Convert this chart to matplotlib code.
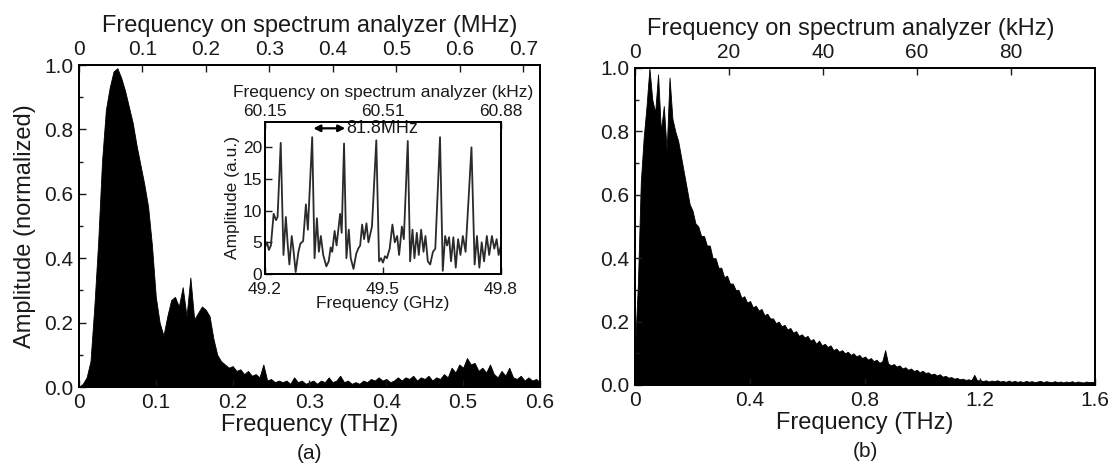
import numpy as np
import matplotlib.pyplot as plt
from matplotlib.ticker import MultipleLocator

plt.rcParams['font.family'] = ['Liberation Sans', 'DejaVu Sans']
plt.rcParams['text.color'] = '#1a1a1a'
plt.rcParams['axes.labelcolor'] = '#1a1a1a'

# ---- panel (a): spectrum 0 - 0.6 THz, read every 0.005 THz ----
freq_a = np.linspace(0.0, 0.6, 121)
amp_a = [0.00, 0.01, 0.03, 0.08, 0.25, 0.45, 0.70, 0.86, 0.93, 0.98,
         0.99, 0.96, 0.92, 0.87, 0.82, 0.75, 0.69, 0.63, 0.56, 0.44,
         0.28, 0.20, 0.16, 0.22, 0.27, 0.28, 0.25, 0.31, 0.22, 0.34,
         0.21, 0.23, 0.25, 0.24, 0.22, 0.15, 0.10, 0.08, 0.07, 0.06,
         0.065, 0.05, 0.055, 0.04, 0.05, 0.035, 0.04, 0.03, 0.07, 0.02,
         0.025, 0.015, 0.02, 0.015, 0.02, 0.01, 0.03, 0.015, 0.02, 0.01,
         0.015, 0.02, 0.01, 0.02, 0.015, 0.03, 0.015, 0.02, 0.035, 0.015,
         0.02, 0.01, 0.015, 0.01, 0.02, 0.015, 0.025, 0.02, 0.03, 0.02,
         0.025, 0.015, 0.02, 0.03, 0.02, 0.03, 0.025, 0.035, 0.02, 0.03,
         0.025, 0.035, 0.02, 0.03, 0.025, 0.04, 0.03, 0.06, 0.045, 0.07,
         0.06, 0.09, 0.07, 0.075, 0.05, 0.06, 0.045, 0.07, 0.04, 0.03,
         0.05, 0.035, 0.06, 0.03, 0.025, 0.035, 0.02, 0.03, 0.02, 0.025,
         0.015]
mhz_ticks = [0, 0.1, 0.2, 0.3, 0.4, 0.5, 0.6, 0.7]
mhz_max = 0.726

# ---- inset: comb of modes, 49.2 - 49.8 GHz ----
inset_freq = [49.200, 49.205, 49.210, 49.215, 49.222, 49.228, 49.232, 49.240,
              49.247, 49.253, 49.258, 49.262, 49.268, 49.272, 49.278, 49.285,
              49.290, 49.297, 49.304, 49.309, 49.320, 49.326, 49.332, 49.337,
              49.342, 49.348, 49.356, 49.362, 49.367, 49.371, 49.377, 49.382,
              49.391, 49.395, 49.401, 49.407, 49.413, 49.418, 49.425, 49.432,
              49.437, 49.442, 49.447, 49.452, 49.458, 49.463, 49.472, 49.483,
              49.490, 49.495, 49.500, 49.505, 49.510, 49.517, 49.524, 49.530,
              49.536, 49.541, 49.548, 49.553, 49.563, 49.569, 49.575, 49.580,
              49.586, 49.591, 49.597, 49.603, 49.608, 49.614, 49.620, 49.627,
              49.633, 49.645, 49.652, 49.658, 49.663, 49.668, 49.673, 49.679,
              49.685, 49.691, 49.697, 49.703, 49.710, 49.725, 49.733, 49.739,
              49.745, 49.751, 49.757, 49.764, 49.770, 49.777, 49.783, 49.789,
              49.794, 49.800]
inset_amp = [4.2, 5.0, 3.8, 4.5, 9.5, 8.5, 9.0, 20.7,
             3.0, 9.0, 4.5, 1.5, 6.0, 4.0, 0.3, 3.5,
             4.8, 5.2, 11.0, 7.0, 21.6, 2.5, 8.8, 3.5,
             6.0, 3.0, 1.2, 2.0, 4.2, 3.5, 6.8, 4.5,
             9.5, 6.5, 20.6, 2.5, 7.0, 2.5, 0.8, 3.2,
             4.0, 4.5, 7.8, 5.5, 8.0, 5.0, 7.5, 21.1,
             2.0, 2.5, 1.8, 2.8, 2.5, 4.0, 7.8, 5.0,
             6.0, 3.0, 7.5, 5.5, 21.0, 2.0, 7.0, 2.5,
             6.5, 3.0, 7.0, 3.5, 6.0, 2.0, 1.5, 3.5,
             4.0, 21.6, 0.5, 6.0, 4.5, 5.8, 2.0, 5.8,
             1.0, 5.5, 3.0, 6.0, 3.5, 20.0, 1.5, 6.0,
             1.0, 5.0, 2.0, 6.0, 3.0, 6.0, 4.0, 5.5,
             3.0, 4.5]
inset_ticks = [49.2, 49.5, 49.8]
inset_top_labels = ['60.15', '60.51', '60.88']
spacing_label = '81.8MHz'

# ---- panel (b): spectrum 0 - 1.6 THz, read every 0.01 THz ----
freq_b = np.linspace(0.0, 1.6, 161)
amp_b = [0.12, 0.32, 0.64, 0.78, 0.88, 1.00, 0.90, 0.86, 0.98, 0.80,
         0.88, 0.74, 0.97, 0.84, 0.80, 0.77, 0.72, 0.67, 0.62, 0.57,
         0.55, 0.51, 0.50, 0.47, 0.47, 0.44, 0.44, 0.40, 0.40, 0.37,
         0.37, 0.34, 0.345, 0.32, 0.32, 0.30, 0.30, 0.275, 0.28, 0.26,
         0.265, 0.245, 0.25, 0.235, 0.24, 0.22, 0.225, 0.21, 0.21, 0.195,
         0.20, 0.185, 0.19, 0.175, 0.18, 0.165, 0.17, 0.155, 0.16, 0.15,
         0.155, 0.14, 0.145, 0.13, 0.14, 0.125, 0.13, 0.12, 0.125, 0.11,
         0.115, 0.105, 0.11, 0.10, 0.105, 0.095, 0.10, 0.09, 0.095, 0.085,
         0.09, 0.08, 0.085, 0.075, 0.08, 0.07, 0.075, 0.11, 0.068, 0.062,
         0.066, 0.058, 0.062, 0.052, 0.056, 0.048, 0.052, 0.044, 0.048, 0.04,
         0.045, 0.038, 0.04, 0.033, 0.036, 0.03, 0.034, 0.026, 0.029, 0.023,
         0.025, 0.02, 0.022, 0.018, 0.02, 0.016, 0.018, 0.015, 0.032, 0.014,
         0.016, 0.012, 0.015, 0.011, 0.014, 0.012, 0.015, 0.011, 0.013, 0.010,
         0.014, 0.010, 0.013, 0.010, 0.012, 0.009, 0.013, 0.010, 0.012, 0.009,
         0.011, 0.013, 0.009, 0.012, 0.010, 0.009, 0.012, 0.009, 0.011, 0.008,
         0.011, 0.009, 0.012, 0.008, 0.011, 0.009, 0.008, 0.011, 0.009, 0.010,
         0.009]
khz_ticks = [0, 20, 40, 60, 80]
khz_max = 98


def fmt(v):
    return '0' if v == 0 else '%g' % v


def style_axis(ax, size):
    ax.tick_params(which='both', direction='in', labelsize=size, pad=4,
                   colors='#1a1a1a', width=1.0)
    ax.tick_params(which='major', length=5)
    ax.tick_params(which='minor', length=3)
    for s in ax.spines.values():
        s.set_linewidth(1.3)


fig = plt.figure(figsize=(11.2, 4.67), dpi=100)

# panel (a)
ax1 = fig.add_axes([0.0705, 0.1713, 0.4116, 0.6895])
ax1.fill_between(freq_a, amp_a, 0, color='black', lw=0.6)
ax1.set_xlim(0, 0.6)
ax1.set_ylim(0, 1.0)
ax1.set_xticks(freq_a[::20])
ax1.set_xticklabels([fmt(round(v, 2)) for v in freq_a[::20]])
ax1.set_yticks([0, 0.2, 0.4, 0.6, 0.8, 1.0])
ax1.set_yticklabels(['0.0', '0.2', '0.4', '0.6', '0.8', '1.0'])
ax1.yaxis.set_minor_locator(MultipleLocator(0.1))
style_axis(ax1, 15)
ax1.set_xlabel('Frequency (THz)', fontsize=17, labelpad=2)
ax1.set_ylabel('Amplitude (normalized)', fontsize=17, labelpad=6)
ax1.text(0.5, -0.205, '(a)', transform=ax1.transAxes, ha='center', va='center', fontsize=15)

ax1t = ax1.twiny()
ax1t.set_xlim(0, mhz_max)
ax1t.set_xticks(mhz_ticks)
ax1t.set_xticklabels([fmt(v) for v in mhz_ticks])
style_axis(ax1t, 15)
ax1t.set_xlabel('Frequency on spectrum analyzer (MHz)', fontsize=17, labelpad=6)

# inset
axi = fig.add_axes([0.2366, 0.4133, 0.2107, 0.3255])
axi.plot(inset_freq, inset_amp, color='#2a2a2a', lw=1.3)
axi.set_xlim(49.2, 49.8)
axi.set_ylim(0, 24)
axi.set_xticks(inset_ticks)
axi.set_xticklabels([str(v) for v in inset_ticks])
axi.set_yticks([0, 5, 10, 15, 20])
style_axis(axi, 12.5)
axi.tick_params(axis='y', pad=2)
axi.tick_params(axis='x', pad=6)
axi.set_xlabel('Frequency (GHz)', fontsize=12.5, labelpad=-1)
axi.set_ylabel('Amplitude (a.u.)', fontsize=12.5, labelpad=2)
axi.annotate('', xy=(inset_freq[21] - 0.003, 23.0), xytext=(inset_freq[34] + 0.003, 23.0),
             arrowprops=dict(arrowstyle='<|-|>', lw=1.6, color='black',
                             mutation_scale=10, shrinkA=0, shrinkB=0))
axi.text(inset_freq[35], 23.0, spacing_label, fontsize=13, va='center', ha='left')

axit = axi.twiny()
axit.set_xlim(49.2, 49.8)
axit.set_xticks(inset_ticks)
axit.set_xticklabels(inset_top_labels)
style_axis(axit, 12.5)
axit.tick_params(pad=2)
axit.set_xlabel('Frequency on spectrum analyzer (kHz)', fontsize=12.5, labelpad=5)

# panel (b)
ax2 = fig.add_axes([0.567, 0.1756, 0.4107, 0.6788])
ax2.fill_between(freq_b, amp_b, 0, color='black', lw=0.6)
ax2.set_xlim(0, 1.6)
ax2.set_ylim(0, 1.0)
ax2.set_xticks(freq_b[::40])
ax2.set_xticklabels([fmt(round(v, 2)) for v in freq_b[::40]])
ax2.set_yticks([0, 0.2, 0.4, 0.6, 0.8, 1.0])
ax2.set_yticklabels(['0.0', '0.2', '0.4', '0.6', '0.8', '1.0'])
ax2.yaxis.set_minor_locator(MultipleLocator(0.1))
style_axis(ax2, 15)
ax2.set_xlabel('Frequency (THz)', fontsize=17, labelpad=2)
ax2.text(0.5, -0.21, '(b)', transform=ax2.transAxes, ha='center', va='center', fontsize=15)

ax2t = ax2.twiny()
ax2t.set_xlim(0, khz_max)
ax2t.set_xticks(khz_ticks)
ax2t.set_xticklabels([fmt(v) for v in khz_ticks])
style_axis(ax2t, 15)
ax2t.set_xlabel('Frequency on spectrum analyzer (kHz)', fontsize=17, labelpad=6)
ax2t.xaxis.label.set_x(0.47)

fig.savefig('out.png', dpi=100)
